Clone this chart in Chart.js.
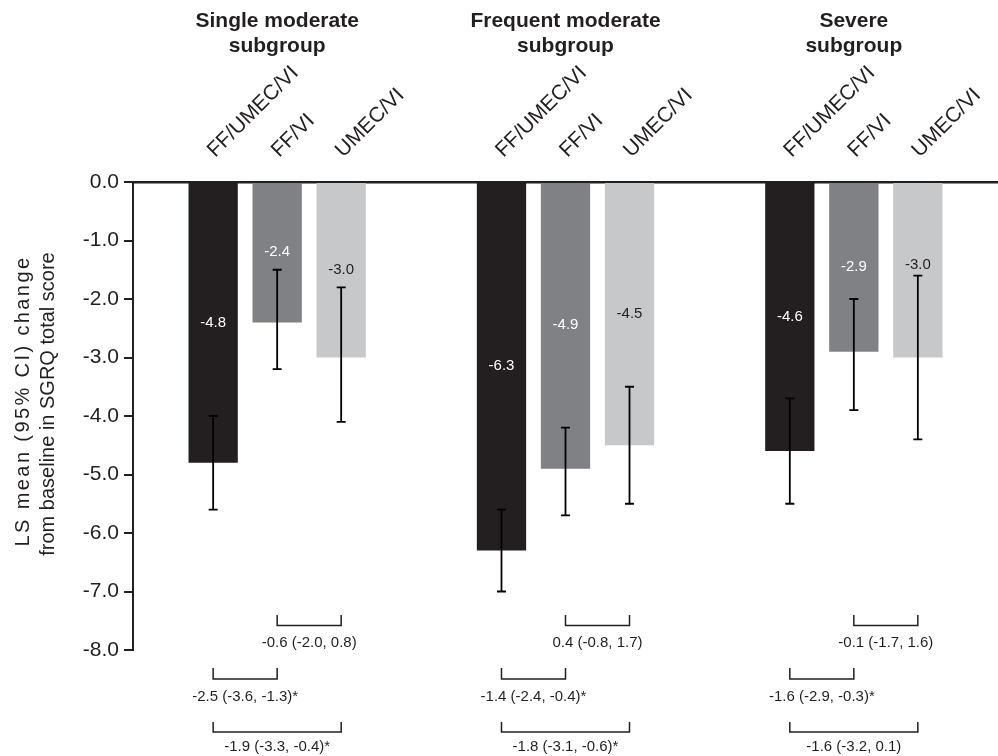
<!DOCTYPE html>
<html>
<head>
<meta charset="utf-8">
<script src="https://cdn.jsdelivr.net/npm/chart.js@4/dist/chart.umd.min.js"></script>
<style>
  html, body { margin: 0; padding: 0; background: #fff; }
  #wrap { width: 998px; height: 756px; position: relative; }
</style>
</head>
<body>
<div id="wrap"><canvas id="c" width="998" height="756"></canvas></div>
<script>
// ---- data ----
const subgroups = [['Single moderate', 'subgroup'], ['Frequent moderate', 'subgroup'], ['Severe', 'subgroup']];
const treatments = ['FF/UMEC/VI', 'FF/VI', 'UMEC/VI'];
const yTicks = [0, -1, -2, -3, -4, -5, -6, -7, -8];

// LS mean change from baseline in SGRQ total score, per subgroup
const ffUmecVi = [-4.8, -6.3, -4.6];
const ffVi = [-2.4, -4.9, -2.9];
const umecVi = [-3.0, -4.5, -3.0];

// 95% CI bounds
const ffUmecViLow = [-5.6, -7.0, -5.5];
const ffUmecViHigh = [-4.0, -5.6, -3.7];
const ffViLow = [-3.2, -5.7, -3.9];
const ffViHigh = [-1.5, -4.2, -2.0];
const umecViLow = [-4.1, -5.5, -4.4];
const umecViHigh = [-1.8, -3.5, -1.6];

// Treatment differences (95% CI); * marks significance
const ffViVsUmecVi = [-0.6, 0.4, -0.1];
const ffViVsUmecViLow = [-2.0, -0.8, -1.7];
const ffViVsUmecViHigh = [0.8, 1.7, 1.6];
const ffViVsUmecViSig = [false, false, false];

const tripleVsFfVi = [-2.5, -1.4, -1.6];
const tripleVsFfViLow = [-3.6, -2.4, -2.9];
const tripleVsFfViHigh = [-1.3, -0.4, -0.3];
const tripleVsFfViSig = [true, true, true];

const tripleVsUmecVi = [-1.9, -1.8, -1.6];
const tripleVsUmecViLow = [-3.3, -3.1, -3.2];
const tripleVsUmecViHigh = [-0.4, -0.6, 0.1];
const tripleVsUmecViSig = [true, true, false];

// ---- styling ----
const FONT = '"Liberation Sans", Arial, Helvetica, sans-serif';
const INK = '#231f20';
const barColors = ['#231f20', '#808184', '#c7c8ca'];
const valueLabelColors = ['#ffffff', '#ffffff', '#231f20'];

const seriesValues = [ffUmecVi, ffVi, umecVi];
const seriesLow = [ffUmecViLow, ffViLow, umecViLow];
const seriesHigh = [ffUmecViHigh, ffViHigh, umecViHigh];

// bracket rows below the bars: [first bar, second bar], values, offsets from plot bottom
const comparisons = [
  { pair: [1, 2], diff: ffViVsUmecVi, low: ffViVsUmecViLow, high: ffViVsUmecViHigh, sig: ffViVsUmecViSig, top: -35, line: -24.5, text: -7 },
  { pair: [0, 1], diff: tripleVsFfVi, low: tripleVsFfViLow, high: tripleVsFfViHigh, sig: tripleVsFfViSig, top: 18, line: 29, text: 47 },
  { pair: [0, 2], diff: tripleVsUmecVi, low: tripleVsUmecViLow, high: tripleVsUmecViHigh, sig: tripleVsUmecViSig, top: 72, line: 82, text: 97 }
];

const fmt = v => v.toFixed(1);

const annotations = {
  id: 'annotations',
  afterDraw(chart) {
    const { ctx, chartArea } = chart;
    const xs = chart.scales.x;
    const ys = chart.scales.y;
    const axisY = ys.getPixelForValue(0);
    const barX = (ds, i) => chart.getDatasetMeta(ds).data[i].x;

    ctx.save();

    // error bars
    ctx.strokeStyle = '#000';
    ctx.lineWidth = 1.8;
    seriesValues.forEach((vals, ds) => {
      vals.forEach((v, i) => {
        const x = barX(ds, i);
        const yLo = ys.getPixelForValue(seriesLow[ds][i]);
        const yHi = ys.getPixelForValue(seriesHigh[ds][i]);
        ctx.beginPath();
        ctx.moveTo(x, yHi); ctx.lineTo(x, yLo);
        ctx.moveTo(x - 4.5, yHi); ctx.lineTo(x + 4.5, yHi);
        ctx.moveTo(x - 4.5, yLo); ctx.lineTo(x + 4.5, yLo);
        ctx.stroke();
      });
    });

    // value labels in the middle of each bar, kept clear of the upper CI cap
    ctx.font = '15px ' + FONT;
    ctx.textAlign = 'center';
    ctx.textBaseline = 'middle';
    seriesValues.forEach((vals, ds) => {
      ctx.fillStyle = valueLabelColors[ds];
      vals.forEach((v, i) => {
        const mid = ys.getPixelForValue(v / 2);
        const cap = ys.getPixelForValue(seriesHigh[ds][i]);
        const y = (mid > cap - 11 && mid < cap + 8) ? cap - 11 : mid;
        ctx.fillText(fmt(v), barX(ds, i), y);
      });
    });

    // subgroup titles
    ctx.fillStyle = INK;
    ctx.font = 'bold 21px ' + FONT;
    ctx.textBaseline = 'alphabetic';
    subgroups.forEach((lines, i) => {
      const cx = xs.getPixelForValue(i);
      lines.forEach((t, k) => ctx.fillText(t, cx, 27 + k * 25));
    });

    // slanted treatment names above each bar
    ctx.font = '21px ' + FONT;
    ctx.textAlign = 'left';
    treatments.forEach((name, ds) => {
      seriesValues[ds].forEach((v, i) => {
        ctx.save();
        ctx.translate(barX(ds, i) + 2, axisY - 24);
        ctx.rotate(-Math.PI / 4);
        ctx.fillText(name, 0, 0);
        ctx.restore();
      });
    });

    // comparison brackets with difference text
    ctx.lineWidth = 1.5;
    ctx.strokeStyle = INK;
    ctx.font = '15px ' + FONT;
    ctx.textAlign = 'center';
    ctx.textBaseline = 'middle';
    const base = chartArea.bottom;
    comparisons.forEach(c => {
      subgroups.forEach((g, i) => {
        const x1 = barX(c.pair[0], i);
        const x2 = barX(c.pair[1], i);
        ctx.beginPath();
        ctx.moveTo(x1, base + c.top);
        ctx.lineTo(x1, base + c.line);
        ctx.lineTo(x2, base + c.line);
        ctx.lineTo(x2, base + c.top);
        ctx.stroke();
        const txt = fmt(c.diff[i]) + ' (' + fmt(c.low[i]) + ', ' + fmt(c.high[i]) + ')' + (c.sig[i] ? '*' : '');
        ctx.fillText(txt, (x1 + x2) / 2, base + c.text);
      });
    });

    // y-axis title
    ctx.font = '20px ' + FONT;
    ctx.save();
    ctx.translate(23, 401);
    ctx.rotate(-Math.PI / 2);
    if ('letterSpacing' in ctx) ctx.letterSpacing = '2.4px';
    ctx.fillText('LS mean (95% CI) change', 0, 0);
    if ('letterSpacing' in ctx) ctx.letterSpacing = '0px';
    ctx.fillText('from baseline in SGRQ total score', -3, 25);
    ctx.restore();

    ctx.restore();
  }
};

new Chart(document.getElementById('c'), {
  type: 'bar',
  data: {
    labels: subgroups.map(g => g.join(' ')),
    datasets: treatments.map((t, i) => ({
      label: t,
      data: seriesValues[i],
      backgroundColor: barColors[i],
      borderWidth: 0,
      categoryPercentage: 0.666,
      barPercentage: 0.77
    }))
  },
  options: {
    responsive: false,
    animation: false,
    devicePixelRatio: 1,
    layout: { padding: { left: 0, right: 0, top: 0, bottom: 106 } },
    plugins: { legend: { display: false }, tooltip: { enabled: false } },
    scales: {
      x: {
        position: 'top',
        z: 1,
        offset: true,
        grid: { display: false },
        ticks: { display: false },
        border: { display: true, color: INK, width: 2.5 },
        afterFit(s) { s.height = 182; }
      },
      y: {
        min: -8,
        max: 0,
        afterBuildTicks(s) { s.ticks = yTicks.map(v => ({ value: v })); },
        ticks: { color: INK, padding: 5, font: { family: FONT, size: 21 }, callback: v => fmt(v) },
        grid: { drawOnChartArea: false, drawTicks: true, tickLength: 9, color: INK, lineWidth: 2 },
        border: { display: true, color: INK, width: 2 },
        afterFit(s) { s.width = 133; }
      }
    }
  },
  plugins: [annotations]
});
</script>
</body>
</html>
